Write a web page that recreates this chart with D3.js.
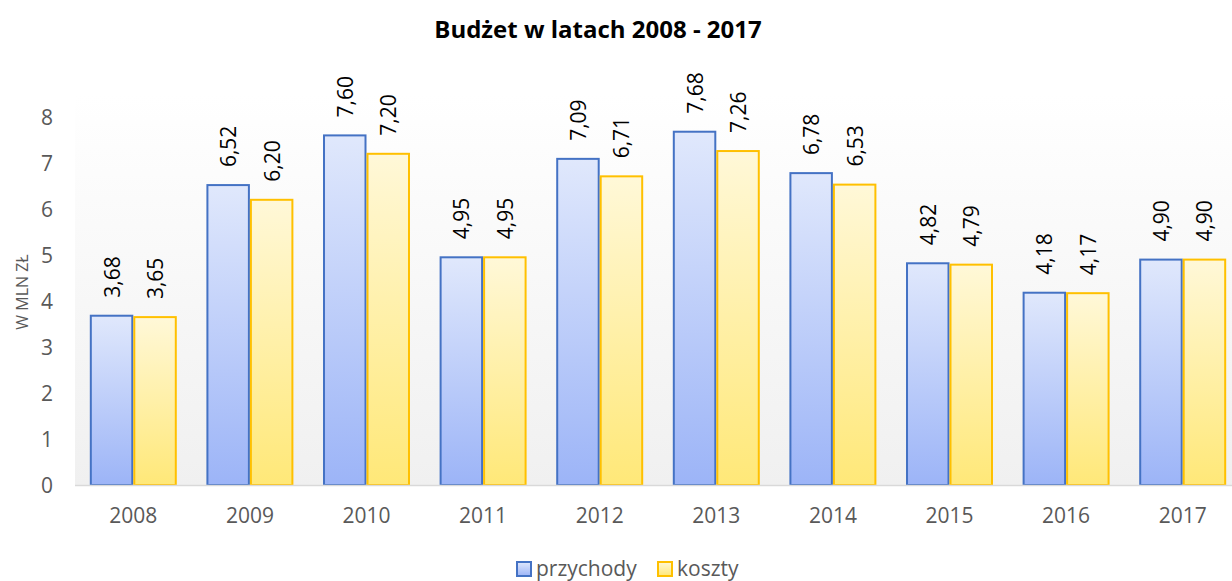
<!DOCTYPE html>
<html>
<head>
<meta charset="utf-8">
<script src="https://cdn.jsdelivr.net/npm/d3@7"></script>
<style>
  body { margin: 0; background: #fff; }
  svg { display: block; font-family: "Open Sans", sans-serif; }
</style>
</head>
<body>
<div id="chart"></div>
<script>
const years = ["2008", "2009", "2010", "2011", "2012", "2013", "2014", "2015", "2016", "2017"];
const przychody = [3.68, 6.52, 7.60, 4.95, 7.09, 7.68, 6.78, 4.82, 4.18, 4.90];
const koszty = [3.65, 6.20, 7.20, 4.95, 6.71, 7.26, 6.53, 4.79, 4.17, 4.90];
const yTicks = [0, 1, 2, 3, 4, 5, 6, 7, 8];
const seriesNames = ["przychody", "koszty"];

const width = 1232, height = 581;
const svg = d3.select("#chart").append("svg")
  .attr("width", width)
  .attr("height", height);

const defs = svg.append("defs");
function grad(id, top, bottom) {
  const g = defs.append("linearGradient").attr("id", id)
    .attr("x1", 0).attr("y1", 0).attr("x2", 0).attr("y2", 1);
  g.append("stop").attr("offset", "0%").attr("stop-color", top);
  g.append("stop").attr("offset", "100%").attr("stop-color", bottom);
}
grad("bg", "#ffffff", "#f0f0f0");
grad("gBlue", "#e0e8fc", "#9cb4f7");
grad("gYellow", "#fff8d8", "#ffe878");

const x0 = d3.scaleBand().domain(years).range([75, 1241]).paddingInner(0.254).paddingOuter(0.127);
const x1 = d3.scaleBand().domain(seriesNames).range([0, x0.bandwidth()]);
const y = d3.scaleLinear().domain([0, 8]).range([485, 117]);

// tło obszaru wykresu
svg.append("rect")
  .attr("x", 75).attr("y", 95)
  .attr("width", width - 75).attr("height", y(0) - 95)
  .attr("fill", "url(#bg)");

// tytuł
svg.append("text")
  .attr("x", 598).attr("y", 38)
  .attr("text-anchor", "middle")
  .attr("font-size", "24px")
  .attr("font-weight", "bold")
  .attr("fill", "#000")
  .text("Budżet w latach 2008 - 2017");

// oś Y
const yAxis = svg.append("g")
  .attr("transform", "translate(53,0)")
  .call(d3.axisLeft(y).tickValues(yTicks).tickSize(0).tickPadding(0));
yAxis.select(".domain").remove();
yAxis.selectAll("text")
  .attr("font-size", "21px")
  .attr("font-family", "Open Sans, sans-serif")
  .attr("fill", "#595959")
  .attr("dy", "0.36em");

svg.append("text")
  .attr("transform", "translate(28,292) rotate(-90)")
  .attr("text-anchor", "middle")
  .attr("font-size", "16px")
  .attr("fill", "#595959")
  .text("W MLN ZŁ");

// słupki
const data = years.map((yr, i) => ({ year: yr, values: [
  { name: "przychody", value: przychody[i] },
  { name: "koszty", value: koszty[i] }
]}));

const styleOf = {
  przychody: { fill: "url(#gBlue)", stroke: "#4472c4" },
  koszty: { fill: "url(#gYellow)", stroke: "#ffc000" }
};

const groups = svg.selectAll(".grp")
  .data(data)
  .enter().append("g")
  .attr("class", "grp")
  .attr("transform", d => "translate(" + x0(d.year) + ",0)");

groups.selectAll("rect")
  .data(d => d.values)
  .enter().append("rect")
  .attr("x", d => x1(d.name) + 1)
  .attr("y", d => y(d.value))
  .attr("width", x1.bandwidth() - 2)
  .attr("height", d => y(0) - y(d.value))
  .attr("fill", d => styleOf[d.name].fill)
  .attr("stroke", d => styleOf[d.name].stroke)
  .attr("stroke-width", 2);

groups.selectAll(".lbl")
  .data(d => d.values)
  .enter().append("text")
  .attr("class", "lbl")
  .attr("transform", d => "translate(" + (x1(d.name) + x1.bandwidth() / 2 + 8) + "," + (y(d.value) - 18) + ") rotate(-90)")
  .attr("font-size", "21px")
  .attr("fill", "#000")
  .text(d => d.value.toFixed(2).replace(".", ","));

// linia bazowa
svg.append("line")
  .attr("x1", 75).attr("x2", width)
  .attr("y1", y(0) + 0.5).attr("y2", y(0) + 0.5)
  .attr("stroke", "#d9d9d9").attr("stroke-width", 1.5);

// oś X
const xAxis = svg.append("g")
  .attr("transform", "translate(0,508)")
  .call(d3.axisBottom(x0).tickSize(0).tickPadding(0));
xAxis.select(".domain").remove();
xAxis.selectAll("text")
  .attr("font-size", "21px")
  .attr("font-family", "Open Sans, sans-serif")
  .attr("fill", "#595959")
  .attr("dy", "0.71em");

// legenda
const legend = svg.append("g").attr("transform", "translate(516,569)");
const legendItems = [
  { name: "przychody", dx: 0 },
  { name: "koszty", dx: 141 }
];
const li = legend.selectAll("g").data(legendItems).enter().append("g")
  .attr("transform", d => "translate(" + d.dx + ",0)");
li.append("rect")
  .attr("x", 1).attr("y", -7)
  .attr("width", 14).attr("height", 14)
  .attr("fill", d => styleOf[d.name].fill)
  .attr("stroke", d => styleOf[d.name].stroke)
  .attr("stroke-width", 2);
li.append("text")
  .attr("x", 20).attr("y", 0)
  .attr("dy", "0.35em")
  .attr("font-size", "21px")
  .attr("fill", "#595959")
  .text(d => d.name);
</script>
</body>
</html>
